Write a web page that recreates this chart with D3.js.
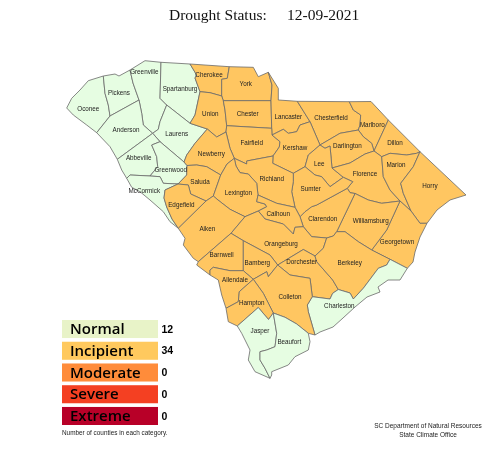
<!DOCTYPE html>
<html><head><meta charset="utf-8">
<style>html,body{margin:0;padding:0;background:#fff}svg{display:block;filter:blur(0.3px)}</style>
<script src="https://cdn.jsdelivr.net/npm/d3@7"></script>
</head><body><svg id="c" width="488" height="456"></svg>
<script>
const categories=["Normal","Incipient","Moderate","Severe","Extreme"];
const categoryCounts=[12,34,0,0,0];
const categoryColors=["#e8f3c8","#ffc95e","#ff8c3a","#f44022","#b80028"];
const normalCounties=["Oconee","Pickens","Greenville","Spartanburg","Anderson","Laurens","Abbeville","Greenwood","McCormick","Charleston","Jasper","Beaufort"];
const arcs={
n1:[[66.7,108],[71.7,98.3],[80,90],[88.3,80.7],[103.3,76]],
n2:[[103.3,76],[115,74],[119,76],[130,70]],
n3:[[130,70],[145,60.7],[161,62.3]],
n4:[[161,62.3],[190,64]],
n5:[[190,64],[229.3,66.7]],
n6:[[229.3,66.7],[253.3,67.3],[258.3,76.7],[268.3,72.3]],
n7:[[268.3,72.3],[278.3,88.3],[278.3,100],[297.3,101.3]],
n8:[[297.3,101.3],[349.3,101.7]],
n9:[[349.3,101.7],[371,101.5],[388.3,120]],
n10:[[388.3,120],[420,151.7]],
n11:[[420,151.7],[466,195],[450,200],[437,210],[427,223.3]],
n12:[[427,223.3],[420,237],[415,252],[413,262],[407.3,268.3]],
n13:[[407.3,268.3],[400,280],[388,280],[378,287],[380,292],[367,297],[355,307],[343,318],[333,327],[320,332],[315,335]],
n14:[[315,335],[308.3,333.3]],
n15:[[308.3,333.3],[310,341.7],[308.3,350],[295,356.7],[288.3,365],[271.7,371.7],[271.7,375],[270,378.3]],
n16:[[270,378.3],[255,371.7],[248.3,360],[250,350],[241.7,333.3],[237.3,326]],
n17:[[237.3,326],[228.3,321.7],[226,308.3]],
n18:[[226,308.3],[221.7,295],[218.3,280],[210,275]],
n19:[[210,275],[196.7,265],[198.3,261.7]],
n20:[[198.3,261.7],[193.3,258.3],[183.3,245],[185,238.3],[178.3,228.3]],
n21:[[178.3,228.3],[170,221.7],[163.3,211.7],[150,200],[140,191.7],[131.7,187.3],[126.7,178.3]],
n22:[[126.7,178.3],[121.7,170],[117.3,159.3]],
n23:[[117.3,159.3],[110,146.7],[96.7,132.7]],
n24:[[96.7,132.7],[86.7,125],[73.3,115],[66.7,108]],
oc_pi:[[103.3,76],[105,93.3],[108.3,105],[110,116]],
oc_an:[[110,116],[96.7,132.7]],
pi_an:[[110,116],[139,100]],
pi_gr:[[130,70],[133,83],[139,100]],
gr_an:[[139,100],[141.7,113.3],[143.3,125],[152.7,133.3]],
gr_sp:[[161,62.3],[160,98.3],[166.7,105]],
gr_la:[[166.7,105],[160,121.7],[158.3,129.3],[152.7,133.3]],
sp_la:[[166.7,105],[190,123.3]],
sp_un:[[190,123.3],[195,115],[200,91.7]],
sp_ch:[[190,64],[196.7,75],[195,78],[200,91.7]],
ch_un:[[200,91.7],[210,92.7],[221.7,96]],
ch_yo:[[229.3,66.7],[227.3,78.3],[221.7,79.3],[221.7,96]],
yo_un:[[221.7,96],[223.3,100.7]],
yo_ce:[[223.3,100.7],[271,100.7]],
yo_lan:[[268.3,72.3],[272,85],[271,100.7]],
un_ce:[[223.3,100.7],[225,110],[226.7,125.7]],
ce_fa:[[226.7,125.7],[271.7,128.3]],
ce_lan:[[271,100.7],[271.7,128.3]],
fa_lan:[[271.7,128.3],[272,135]],
lan_ke:[[272,135],[283.3,129.3],[288.3,133.3],[296.7,131.7],[300,125],[310,121.7]],
lan_cf:[[297.3,101.3],[310,121.7]],
fa_ke:[[272,135],[280,141.7],[279.3,147],[273,156]],
fa_ri:[[234.3,158.3],[246.7,164],[246.7,161],[273,156]],
ke_ri:[[273,156],[272.7,163.3],[293.3,173.3]],
un_fa:[[226.7,125.7],[226,132]],
un_ne:[[207.3,129],[216.7,137],[226,132]],
la_un:[[190,123.3],[207.3,129]],
la_ne:[[207.3,129],[195,143.3],[186.7,155],[184,162]],
fa_ne:[[226,132],[230,148.3],[234.3,158.3]],
ne_sa:[[220.7,175],[206.7,166.7],[196.7,165],[187,165.5]],
gw_ne:[[184,162],[187,165.5]],
la_gw:[[160,141.7],[184,162]],
la_ab:[[152.7,133.3],[160,141.7]],
an_ab:[[117.3,159.3],[152.7,133.3]],
ab_gw:[[160,141.7],[151.7,145],[156.7,156.7],[157.7,166.7],[150,176]],
ab_mc:[[126.7,178.3],[130,175],[150,176]],
gw_mc:[[150,176],[160,176.7],[163.3,183.3],[178,184]],
gw_sa:[[187,165.5],[186.7,175],[178,184]],
sa_ed:[[178,184],[188.3,185],[190.7,194],[206,201]],
mc_ed:[[178,184],[165,190],[164,198],[166.7,207],[172,219],[178.3,228.3]],
sa_ai:[[206,201],[213.3,196]],
ed_ai:[[206,201],[178.3,228.3]],
sa_le:[[213.3,196],[220.7,175]],
ne_le:[[234.3,158.3],[227,164],[220.7,175]],
le_ri:[[234.3,158.3],[236,166],[240,172.7],[248.3,174],[256.7,183.3],[258,195]],
le_ca:[[258,195],[256.7,201.7],[265,204],[266.7,206.7],[258.3,211]],
le_or:[[258.3,211],[245,216.7]],
le_ai:[[213.3,196],[218,200],[230,209.3],[245,216.7]],
ai_or:[[245,216.7],[231,233.3]],
ai_ba:[[231,233.3],[198.3,261.7]],
ba_or:[[231,233.3],[243.3,240.7]],
ba_bm:[[243.3,240.7],[243.3,270.7]],
ba_al:[[210,275],[210,270],[213.3,267.3],[230,270.7],[243.3,270.7]],
bm_al:[[243.3,270.7],[253.3,279.3]],
bm_or:[[243.3,240.7],[270,255],[277.7,265]],
bm_co:[[253.3,279.3],[266.7,271.7],[268.3,276.7],[277.7,265]],
or_do:[[277.7,265],[303.3,249.5],[315,256]],
do_co:[[277.7,265],[290,275],[310,278.3],[312.3,296.7]],
do_cha:[[312.3,296.7],[330,299],[332.7,293.3],[338.3,289.5]],
do_be:[[315,256],[316.7,261.7],[332.7,280],[338.3,289.5]],
co_cha:[[312.3,296.7],[307.3,305],[308.3,311.7],[315,335]],
al_ha:[[253.3,279.3],[239.3,291.7],[238.3,301.7],[226,308.3]],
ha_co:[[253.3,279.3],[263.3,293.3],[273.3,313]],
ha_ja:[[237.3,326],[258.3,307.5],[268.5,319.5],[273.3,313]],
co_be:[[273.3,313],[285,317.3],[296.7,324],[308.3,333.3]],
ja_be:[[273.3,313],[276.7,333.3],[275,346.7],[266.7,350],[260,351.7],[260,360],[265,368.3],[270,378.3]],
or_ca:[[258.3,211],[265,219],[283.3,224],[293.3,234],[295,227.3],[303.3,226.7]],
ca_ri:[[258,195],[276.7,203.3],[295,207.3]],
ri_su:[[293.3,173.3],[293.3,181.7],[291.7,191.7],[295,207.3]],
ca_su:[[295,207.3],[300,216.7]],
ca_cl:[[300,216.7],[303.3,226.7]],
su_cl:[[300,216.7],[305,211.7],[311.7,206.7],[316.7,205],[347.3,188.3]],
ke_su:[[293.3,173.3],[305,166.7]],
ke_lee:[[305,166.7],[308.3,155],[320,145]],
lee_su:[[305,166.7],[315,175],[321.7,176.7],[330,186.7],[343.3,177.3]],
lee_da:[[320,145],[325,148.3],[330,146],[332,168]],
lee_fl:[[332,168],[343.3,177.3]],
da_fl:[[332,168],[350,163],[360,157],[365,154],[374,151]],
su_fl:[[343.3,177.3],[352.7,181.7],[347.3,188.3]],
fl_cl:[[347.3,188.3],[350,192.7],[355,193.5]],
cl_wi:[[355,193.5],[336.7,231.7]],
wi_be:[[336.7,231.7],[345,231.7],[358.3,241.7],[371.7,250]],
cl_be:[[326.7,238],[333.3,236],[336.7,231.7]],
cl_or:[[303.3,226.7],[311.7,236.7],[326.7,238]],
or_be:[[326.7,238],[323.3,248.3],[315,256]],
be_ge:[[371.7,250],[390,259.3]],
be_cha:[[338.3,289.5],[350,293],[353.3,299],[363.3,288.3],[378.3,268.3],[386.7,265],[390,259.3]],
cha_ge:[[390,259.3],[407.3,268.3]],
wi_ge:[[371.7,250],[386.7,230],[400,201]],
wi_fl:[[355,193.5],[368.3,200],[381.7,203.3],[400,201]],
fl_ma:[[381.7,156.7],[383.3,176.7],[390,190],[400,201]],
fl_di:[[374,151],[381.7,156.7]],
ma_ge:[[400,201],[411,211]],
ma_ho:[[420,151.7],[413.3,166.7],[400.7,183.3],[403.3,193.3],[411,211]],
ho_ge:[[411,211],[420,223.3],[427,223.3]],
di_ma:[[381.7,156.7],[390,153.3],[406.7,155],[416.7,153.3],[420,151.7]],
ma_di:[[388.3,120],[374,151]],
ma_da:[[358.3,130],[363.3,136.7],[371.7,143.3],[374,151]],
cf_ma:[[349.3,101.7],[353.3,110],[360.7,115],[360,125],[358.3,130]],
cf_da:[[320,145],[340,133.3],[358.3,130]],
cf_ke:[[310,121.7],[320,145]]
};
const countyRings={
Oconee:"n1 oc_pi oc_an n24",
Pickens:"n2 pi_gr -pi_an -oc_pi",
Greenville:"n3 gr_sp gr_la -gr_an -pi_gr",
Spartanburg:"n4 sp_ch -sp_un -sp_la -gr_sp",
Anderson:"pi_an gr_an -an_ab n23 -oc_an",
Laurens:"sp_la la_un la_ne -la_gw -la_ab -gr_la",
Abbeville:"an_ab la_ab ab_gw -ab_mc n22",
Greenwood:"la_gw gw_ne gw_sa -gw_mc -ab_gw",
McCormick:"ab_mc gw_mc mc_ed n21",
Cherokee:"n5 ch_yo -ch_un -sp_ch",
York:"n6 yo_lan -yo_ce -yo_un -ch_yo",
Union:"sp_un ch_un yo_un un_ce un_fa -un_ne -la_un",
Chester:"yo_ce ce_lan -ce_fa -un_ce",
Lancaster:"n7 lan_cf -lan_ke -fa_lan -ce_lan -yo_lan",
Fairfield:"ce_fa fa_lan fa_ke -fa_ri -fa_ne -un_fa",
Chesterfield:"n8 cf_ma -cf_da -cf_ke -lan_cf",
Marlboro:"n9 ma_di -ma_da -cf_ma",
Dillon:"n10 -di_ma -fl_di -ma_di",
Kershaw:"lan_ke cf_ke -ke_lee -ke_su -ke_ri -fa_ke",
Darlington:"cf_da ma_da -da_fl -lee_da",
Lee:"ke_lee lee_da lee_fl -lee_su",
Florence:"da_fl fl_di fl_ma -wi_fl -fl_cl -su_fl -lee_fl",
Marion:"di_ma ma_ho -ma_ge -fl_ma",
Horry:"n11 -ho_ge -ma_ho",
Georgetown:"ma_ge ho_ge n12 -cha_ge -be_ge wi_ge",
Williamsburg:"wi_fl -wi_ge -wi_be -cl_wi",
Clarendon:"su_cl fl_cl cl_wi -cl_be -cl_or -ca_cl",
Sumter:"lee_su su_fl -su_cl -ca_su -ri_su ke_su",
Richland:"ke_ri ri_su -ca_ri -le_ri fa_ri",
Newberry:"un_ne fa_ne ne_le ne_sa -gw_ne -la_ne",
Saluda:"-ne_sa -sa_le -sa_ai -sa_ed -gw_sa",
Edgefield:"sa_ed ed_ai -mc_ed",
Lexington:"le_ri le_ca le_or -le_ai sa_le -ne_le",
Aiken:"le_ai ai_or ai_ba n20 -ed_ai sa_ai",
Calhoun:"ca_ri ca_su ca_cl -or_ca -le_ca",
Orangeburg:"-le_or or_ca cl_or or_be -or_do -bm_or -ba_or -ai_or",
Barnwell:"ba_or ba_bm -ba_al n19 -ai_ba",
Bamberg:"bm_or -bm_co -bm_al -ba_bm",
Dorchester:"or_do do_be -do_cha -do_co",
Berkeley:"-or_be cl_be wi_be be_ge -be_cha -do_be",
Charleston:"be_cha cha_ge n13 -co_cha do_cha",
Colleton:"bm_co do_co co_cha n14 -co_be -ha_co",
Allendale:"ba_al bm_al al_ha n18",
Hampton:"ha_co -ha_ja n17 -al_ha",
Jasper:"ha_ja ja_be n16",
Beaufort:"co_be n15 -ja_be"
};
const labelAnchors={Greenville:[144.3,71.7],Pickens:[119,92.3],Oconee:[88.3,109],Anderson:[126,129.3],Spartanburg:[180,88.7],Laurens:[176.7,134],Abbeville:[138.7,157.7],Greenwood:[170.7,170],McCormick:[144.3,190.3],Cherokee:[209,74.7],York:[245.7,84],Union:[210.3,113.3],Chester:[247.7,113.3],Newberry:[211.3,153.3],Saluda:[200,181.3],Edgefield:[181.3,205],Lexington:[238.3,192.3],Fairfield:[251.7,142.7],Lancaster:[288.3,116.7],Chesterfield:[331,118],Marlboro:[372.3,124.3],Dillon:[395,142.7],Darlington:[347.3,146],Kershaw:[295,148],Lee:[319.3,163.3],Richland:[271.7,178.3],Sumter:[310.7,188.3],Florence:[365,174],Marion:[396,165],Horry:[430,185.7],Calhoun:[278.3,213.3],Clarendon:[322.7,218.7],Williamsburg:[370.7,220.3],Georgetown:[397,242],Berkeley:[349.7,262.3],Charleston:[339.3,305.7],Orangeburg:[281,244],Dorchester:[301.7,262],Bamberg:[257.3,262.3],Barnwell:[221.7,254.7],Aiken:[207.3,228.3],Allendale:[235,279.7],Hampton:[251.7,302.7],Colleton:[290,297],Jasper:[260,330.7],Beaufort:[289.3,341.7]};
const titleParts=["Drought Status:","12-09-2021"];
const footNote="Number of counties in each category.";
const credits=["SC Department of Natural Resources","State Climate Office"];

const ringFrom=spec=>{
  const pts=[];
  spec.split(" ").forEach(k=>{
    const a=k[0]==="-"?arcs[k.slice(1)].slice().reverse():arcs[k];
    pts.push(...(pts.length?a.slice(1):a));
  });
  return pts;
};
const features=Object.keys(countyRings).map(name=>({type:"Feature",properties:{name},
  geometry:{type:"Polygon",coordinates:[ringFrom(countyRings[name])]}}));
const projection=d3.geoIdentity();
const path=d3.geoPath(projection);
const svg=d3.select("#c");
const fillFor=d=>normalCounties.includes(d.properties.name)?"#e6fde2":"#ffc661";

svg.append("g").selectAll("path").data(features).join("path")
  .attr("d",path).attr("fill",fillFor).attr("stroke","#6a6a6a").attr("stroke-width",0.8).attr("stroke-linejoin","round");
svg.append("g").selectAll("text").data(features).join("text")
  .attr("transform",d=>`translate(${projection(labelAnchors[d.properties.name])})`)
  .attr("text-anchor","middle").attr("dy","0.35em")
  .attr("font-family","'Liberation Sans',Arial,sans-serif").attr("font-size",6.3).attr("fill","#222")
  .text(d=>d.properties.name);

const t=svg.append("g").attr("font-family","'Liberation Serif',serif").attr("font-size",15.5).attr("fill","#111");
t.append("text").attr("x",169).attr("y",20).text(titleParts[0]);
t.append("text").attr("x",287).attr("y",20).text(titleParts[1]);

const y=d3.scaleBand().domain(categories).range([320,425]).paddingInner(0.17).paddingOuter(0);
const lg=svg.append("g").selectAll("g").data(categories).join("g");
lg.append("rect").attr("x",62).attr("width",96).attr("y",d=>y(d)).attr("height",y.bandwidth())
  .attr("fill",(d,i)=>categoryColors[i]);
lg.append("text").attr("x",70).attr("y",d=>y(d)+y.bandwidth()/2).attr("dy","0.35em")
  .attr("font-family","'Open Sans',sans-serif").attr("font-size",15).attr("font-weight",600).attr("fill","#000").text(d=>d);
lg.append("text").attr("x",161.5).attr("y",d=>y(d)+y.bandwidth()/2).attr("dy","0.35em")
  .attr("font-family","'Liberation Sans',sans-serif").attr("font-size",10.5).attr("font-weight",700).attr("fill","#000")
  .text((d,i)=>categoryCounts[i]);

svg.append("text").attr("x",62).attr("y",434.5).attr("font-family","'Liberation Sans',sans-serif")
  .attr("font-size",6.4).attr("fill","#222").text(footNote);
svg.selectAll("text.cr").data(credits).join("text").attr("class","cr").attr("x",428).attr("y",(d,i)=>428+i*8.5)
  .attr("text-anchor","middle").attr("font-family","'Liberation Sans',sans-serif").attr("font-size",6.5).attr("fill","#222").text(d=>d);
</script></body></html>
